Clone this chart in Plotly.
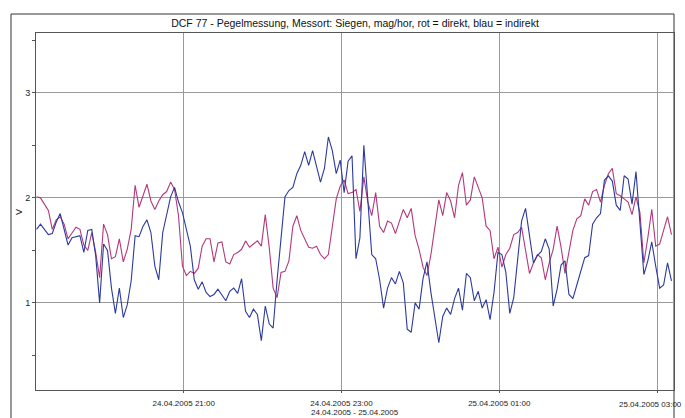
import pandas as pd
import plotly.graph_objects as go

# ---- data ----
start_time = "2005-04-24 19:08"
step_minutes = 3

direkt_rot = [
    2.01, 2.00, 1.94, 1.88, 1.70, 1.79, 1.82, 1.75, 1.61, 1.66, 1.72, 1.70, 1.55, 1.50, 1.67, 1.48, 1.24, 1.75, 1.65, 1.42,
    1.44, 1.61, 1.39, 1.51, 1.70, 2.12, 1.91, 2.02, 2.13, 1.97, 1.89, 1.97, 2.03, 2.06, 2.15, 2.08, 1.83, 1.35, 1.26, 1.30,
    1.28, 1.33, 1.54, 1.61, 1.61, 1.39, 1.57, 1.58, 1.39, 1.37, 1.46, 1.48, 1.51, 1.59, 1.53, 1.56, 1.59, 1.54, 1.84, 1.53,
    1.14, 1.05, 1.29, 1.30, 1.40, 1.73, 1.83, 1.69, 1.61, 1.53, 1.52, 1.54, 1.46, 1.42, 1.46, 1.73, 1.99, 2.11, 2.17,
    2.04, 2.05, 2.08, 1.87, 2.20, 1.96, 1.83, 2.05, 1.73, 1.67, 1.78, 1.76, 1.66, 1.77, 1.89, 1.81, 1.90, 1.64, 1.51, 1.34,
    1.26, 1.46, 1.70, 1.98, 1.83, 2.05, 1.97, 1.81, 2.12, 2.24, 1.93, 1.98, 2.20, 2.10, 2.00, 1.73, 1.69, 1.42, 1.53, 1.34,
    1.46, 1.52, 1.65, 1.67, 1.72, 1.50, 1.28, 1.38, 1.46, 1.43, 1.22, 1.38, 1.51, 1.73, 1.53, 1.28, 1.49, 1.69, 1.80, 1.83,
    1.99, 1.93, 2.06, 2.08, 1.96, 2.12, 2.23, 2.28, 2.04, 2.02, 1.99, 1.96, 1.84, 2.01, 1.86, 1.38, 1.62, 1.89, 1.54, 1.56,
    1.69, 1.82, 1.65,
]

indirekt_blau = [
    1.70, 1.75, 1.70, 1.65, 1.66, 1.77, 1.85, 1.70, 1.55, 1.62, 1.63, 1.64, 1.48, 1.69, 1.70, 1.45, 1.00, 1.56, 1.50, 1.14,
    0.90, 1.14, 0.86, 0.98, 1.21, 1.64, 1.63, 1.73, 1.79, 1.67, 1.35, 1.22, 1.67, 1.84, 2.01, 2.10, 1.96, 1.86, 1.70, 1.54,
    1.22, 1.13, 1.20, 1.10, 1.06, 1.08, 1.13, 1.08, 1.02, 1.11, 1.14, 1.09, 1.23, 0.92, 0.86, 0.94, 0.89, 0.64, 0.97, 0.80,
    0.76, 1.22, 1.65, 2.01, 2.07, 2.10, 2.23, 2.31, 2.44, 2.31, 2.45, 2.29, 2.15, 2.28, 2.58, 2.45, 2.23, 2.36, 2.05,
    2.35, 2.40, 1.42, 1.62, 2.50, 1.97, 1.46, 1.42, 1.22, 0.95, 1.14, 1.24, 1.18, 1.30, 1.19, 0.75, 0.72, 1.00, 0.94, 1.23,
    1.39, 1.10, 0.84, 0.62, 0.87, 0.95, 0.89, 1.04, 1.14, 0.93, 1.28, 1.24, 1.02, 1.11, 0.95, 1.03, 0.84, 1.10, 1.48, 1.46,
    1.29, 0.90, 1.05, 1.39, 1.78, 1.90, 1.66, 1.38, 1.45, 1.49, 1.61, 1.51, 0.97, 1.13, 1.36, 1.40, 1.08, 1.04, 1.17, 1.29,
    1.43, 1.45, 1.75, 1.81, 1.85, 2.17, 2.21, 2.16, 1.93, 1.88, 2.21, 2.18, 1.94, 2.25, 1.80, 1.27, 1.40, 1.58, 1.35, 1.14,
    1.17, 1.38, 1.21,
]

x_tick_values = ["2005-04-24 21:00", "2005-04-24 23:00", "2005-04-25 01:00", "2005-04-25 03:00"]
x_tick_labels = ["24.04.2005 21:00", "24.04.2005 23:00", "25.04.2005 01:00", "25.04.2005 03:00"]
y_tick_values = [1, 2, 3]
y_tick_labels = ["1", "2", "3"]

title_text = "DCF 77 - Pegelmessung, Messort: Siegen, mag/hor, rot = direkt, blau = indirekt"
x_title = "24.04.2005 - 25.04.2005"
y_title = "V"

times = pd.date_range(start=start_time, periods=len(direkt_rot), freq=f"{step_minutes}min")

FONT = "Liberation Sans Narrow, Arial Narrow, Liberation Sans, Arial, sans-serif"
TICK_FONT = dict(size=8, family=FONT, color="#222")

fig = go.Figure()
fig.add_trace(go.Scatter(x=times, y=direkt_rot, mode="lines",
                         line=dict(color="#b3387c", width=1.1), name="direkt"))
fig.add_trace(go.Scatter(x=times, y=indirekt_blau, mode="lines",
                         line=dict(color="#2c3a9e", width=1.1), name="indirekt"))

fig.update_layout(
    width=685, height=418,
    margin=dict(l=36, r=11, t=33, b=28, autoexpand=False),
    paper_bgcolor="white", plot_bgcolor="white",
    showlegend=False,
    font=dict(family=FONT, size=9, color="#222"),
    title=dict(text=title_text, x=(36 + 674) / 2 / 685, xanchor="center",
               y=1 - 23 / 418, yanchor="middle", yref="container",
               font=dict(family=FONT, size=10.5, color="#111")),
)

# last label sits at the right edge: it is drawn right-aligned below its tick
fig.update_xaxes(
    type="date",
    range=["2005-04-24 19:07:36", "2005-04-25 03:12:55"],
    tickmode="array", tickvals=x_tick_values,
    ticktext=x_tick_labels[:-1] + [""],
    tickfont=TICK_FONT,
    showgrid=True, gridcolor="#9a9a9a", gridwidth=1.3,
    showline=True, linecolor="#555", linewidth=1, mirror=True,
    ticks="outside", ticklen=2, tickcolor="#555",
    ticklabelstandoff=3,
    zeroline=False,
)
fig.add_annotation(text=x_tick_labels[-1], x=x_tick_values[-1], xref="x", yref="paper", y=0,
                   xanchor="right", xshift=27, yanchor="middle", yshift=-14, showarrow=False,
                   font=TICK_FONT)

fig.update_yaxes(
    range=[0.17, 3.57],
    tickmode="array", tickvals=y_tick_values, ticktext=y_tick_labels,
    tickfont=dict(size=9, family=FONT, color="#222"),
    showgrid=True, gridcolor="#9a9a9a", gridwidth=1.3,
    showline=True, linecolor="#555", linewidth=1, mirror=True,
    ticks="outside", ticklen=3, tickcolor="#555",
    minor=dict(tickmode="linear", tick0=0.5, dtick=0.5, ticks="outside", ticklen=3,
               tickcolor="#555", showgrid=False),
    zeroline=False,
)

fig.add_annotation(text=x_title, xref="paper", yref="paper", x=0.5, y=0,
                   yshift=-22, showarrow=False, yanchor="middle",
                   font=TICK_FONT)
fig.add_annotation(text=y_title, xref="paper", yref="paper", x=(19 - 36) / 638, y=(390 - 212) / 357,
                   showarrow=False, textangle=-90, xanchor="center", yanchor="middle",
                   font=dict(size=9, family=FONT, color="#222"))

# outer frame of the chart window
fig.add_shape(type="rect", xref="paper", yref="paper",
              x0=(11 - 36) / 638, x1=1.0, y0=(390 - 430) / 357, y1=(390 - 14) / 357,
              line=dict(color="#333", width=1), fillcolor="rgba(0,0,0,0)", layer="below")

fig.write_html("out.html", config={"displayModeBar": False},
               post_script="document.body.style.margin='0';document.body.style.padding='0';")
